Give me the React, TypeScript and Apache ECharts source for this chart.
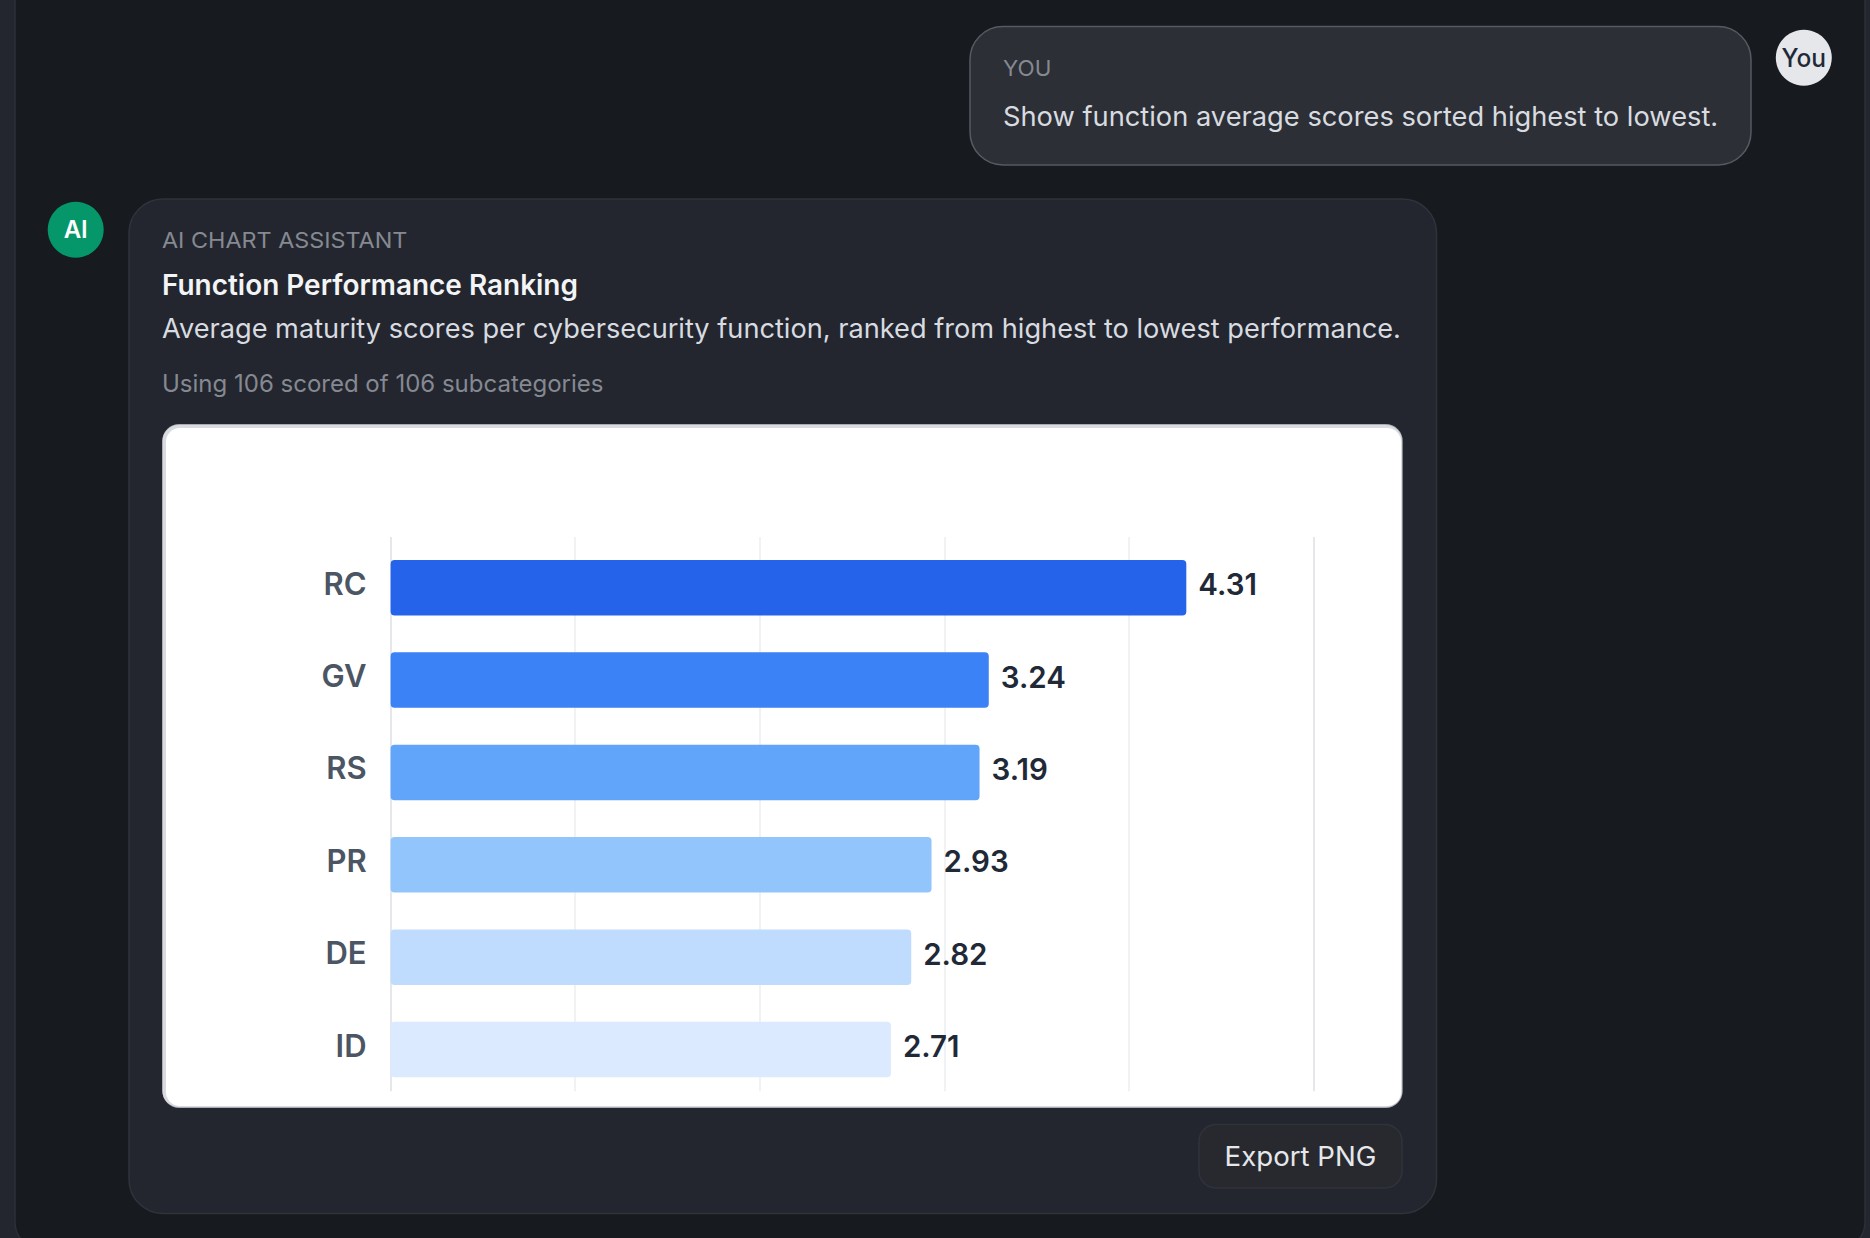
import React, { useEffect, useRef } from "react";
import * as echarts from "echarts";

const categories = ["RC", "GV", "RS", "PR", "DE", "ID"];
const scores = [4.31, 3.24, 3.19, 2.93, 2.82, 2.71];
const barColors = ["#2563eb", "#3b82f6", "#60a5fa", "#93c5fd", "#bfdbfe", "#dbeafe"];
const gridLineColors = ["#e5e7eb", "#f1f2f4", "#f1f2f4", "#f1f2f4", "#f1f2f4", "#e5e7eb"];

const FONT = "Inter";

function label(text: string, x: number, y: number, fontSize: number, fill: string, fontWeight: number = 400, align: string = "left", scaleX: number = 1) {
  return {
    type: "text",
    x,
    y,
    z: -1,
    scaleX,
    style: { text, x: 0, y: 0, fontSize, fontFamily: FONT, fontWeight, fill, align, verticalAlign: "middle" },
  };
}

function box(x: number, y: number, x2: number, y2: number, r: number, fill: string, stroke?: string, lineWidth: number = 0) {
  return {
    type: "rect",
    z: -2,
    shape: { x, y, width: x2 - x, height: y2 - y, r },
    style: { fill, stroke: stroke || "none", lineWidth },
  };
}

function disc(cx: number, cy: number, r: number, fill: string) {
  return { type: "circle", z: -2, shape: { cx, cy, r }, style: { fill } };
}

export default function App() {
  const ref = useRef<HTMLDivElement>(null);
  useEffect(() => {
    document.body.style.margin = "0";
    const chart = echarts.init(ref.current!, null, { renderer: "svg" });
    const gridLeft = 390.6;
    const gridWidth = 923.1;
    const gridHeight = 554.2;
    chart.setOption({
      animation: false,
      backgroundColor: "#23262e",
      graphic: [
        box(15, -60, 1865, 1250, 28, "#171a1f", "#2c2f37", 1.5),
        box(970, 26.5, 1751, 165, 33, "#2c2f35", "#565a63", 1.5),
        disc(1803.8, 57.7, 28, "#e5e7eb"),
        disc(75.7, 229.7, 28, "#059669"),
        box(129, 199, 1436.5, 1213.5, 34, "#23262e", "#30333b", 1.5),
        box(162.3, 424, 1402.7, 1108, 17, "#a9acb4"),
        box(162.5, 425, 1402, 1107, 16, "#d9dbe1"),
        box(166, 428, 1401, 1106, 14, "#ffffff"),
        box(1199, 1124.5, 1402, 1188, 17, "#27292f", "#30333b", 1.5),
        label("YOU", 1003, 68, 22, "#858992", 400, "left", 1.02),
        label("Show function average scores sorted highest to lowest.", 1003, 116.5, 27, "#d8dbe0", 400, "left", 1.01),
        label("You", 1803.8, 57.5, 25, "#1f2937", 500, "center", 0.98),
        label("AI", 75.7, 229.5, 24, "#ffffff", 600, "center"),
        label("AI CHART ASSISTANT", 162, 240, 22, "#858992", 400, "left", 1.062),
        label("Function Performance Ranking", 162, 284.7, 28, "#f3f4f6", 600, "left", 0.998),
        label("Average maturity scores per cybersecurity function, ranked from highest to lowest performance.", 162, 329, 27, "#d8dbe0", 400, "left", 1.007),
        label("Using 106 scored of 106 subcategories", 162, 383, 24, "#858992", 400),
        label("Export PNG", 1300.5, 1157, 27, "#e5e7eb", 400, "center", 1.024),
      ],
      grid: [
        { left: gridLeft, width: gridWidth, top: 537, height: gridHeight, containLabel: false },
        { left: gridLeft, width: gridWidth, top: 541.5, height: gridHeight, containLabel: false },
      ],
      xAxis: [0, 1].map((gridIndex) => ({
        type: "value",
        gridIndex,
        min: 0,
        max: 5,
        interval: 1,
        axisLine: { show: false },
        axisTick: { show: false },
        axisLabel: { show: false },
        splitLine: gridIndex === 0 ? { show: true, lineStyle: { color: gridLineColors, width: 2 } } : { show: false },
      })),
      yAxis: [
        {
          type: "category",
          gridIndex: 0,
          inverse: true,
          data: categories,
          axisLine: { show: false },
          axisTick: { show: false },
          splitLine: { show: false },
          axisLabel: { color: "#4b5563", fontSize: 31, fontWeight: 600, fontFamily: FONT, margin: 24, padding: [2, 0, 0, 0] },
        },
        {
          type: "category",
          gridIndex: 1,
          inverse: true,
          data: categories,
          show: false,
        },
      ],
      series: [
        {
          type: "bar",
          xAxisIndex: 1,
          yAxisIndex: 1,
          barWidth: 55.5,
          z: 3,
          data: scores.map((value, i) => ({
            value,
            itemStyle: { color: barColors[i], borderRadius: 4 },
          })),
          label: {
            show: true,
            position: "right",
            distance: 12,
            offset: [0, -3.5],
            color: "#1f2937",
            fontSize: 29.5,
            fontWeight: 600,
            fontFamily: FONT,
            formatter: (p: any) => p.value.toFixed(2),
          },
        },
      ],
    });
    return () => chart.dispose();
  }, []);
  return <div ref={ref} style={{ position: "absolute", left: 0, top: 0, width: 1870, height: 1238 }} />;
}
